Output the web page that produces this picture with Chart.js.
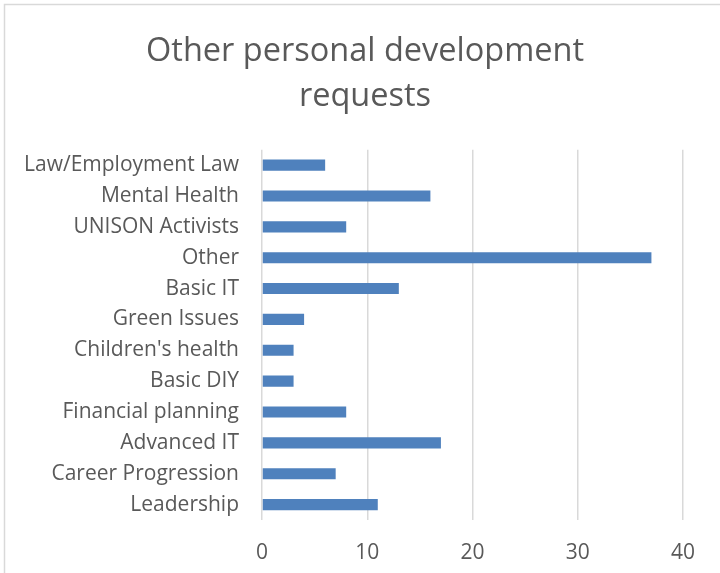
<!DOCTYPE html>
<html>
<head>
<meta charset="utf-8">
<script src="https://cdn.jsdelivr.net/npm/chart.js@4"></script>
<style>
    html, body { margin: 0; padding: 0; background: #ffffff; }
    #wrap { position: relative; width: 720px; height: 573px; }
</style>
</head>
<body>
<div id="wrap"><canvas id="requestsChart" width="720" height="573"></canvas></div>
<script>
// ======================================================
// Data
// ======================================================

const titleLines = ["Other personal development", "requests"];

const categories = [
    "Law/Employment Law",
    "Mental Health",
    "UNISON Activists",
    "Other",
    "Basic IT",
    "Green Issues",
    "Children's health",
    "Basic DIY",
    "Financial planning",
    "Advanced IT",
    "Career Progression",
    "Leadership"
];

const requestCounts = [6, 16, 8, 37, 13, 4, 3, 3, 8, 17, 7, 11];

const xTicks = [0, 10, 20, 30, 40];

// ======================================================
// Theme
// ======================================================

const textColor = "#595959";
const gridColor = "#d9d9d9";
const barColor = "#4f81bd";
const fontFamily = "'Open Sans', 'Noto Sans', sans-serif";

// light frame around the chart, cut off on the right and bottom
const framePlugin = {
    id: "frame",
    beforeDraw(chart) {
        const ctx = chart.ctx;
        ctx.save();
        ctx.strokeStyle = gridColor;
        ctx.lineWidth = 1.5;
        ctx.strokeRect(4.5, 4.5, 900, 900);
        ctx.restore();
    }
};

// ======================================================
// Chart
// ======================================================

new Chart(document.getElementById("requestsChart"), {
    type: "bar",
    data: {
        labels: categories,
        datasets: [{
            data: requestCounts,
            backgroundColor: barColor,
            borderWidth: 0,
            categoryPercentage: 1,
            barPercentage: 0.36
        }]
    },
    options: {
        indexAxis: "y",
        responsive: false,
        animation: false,
        layout: {
            padding: { top: 29, right: 0, bottom: 0, left: 10 }
        },
        plugins: {
            legend: { display: false },
            tooltip: { enabled: false },
            title: {
                display: true,
                text: titleLines,
                color: textColor,
                font: { family: fontFamily, size: 32.5, weight: "normal", lineHeight: 1.38 },
                padding: { top: 0, bottom: 31 }
            }
        },
        scales: {
            x: {
                min: 0,
                max: 40,
                afterBuildTicks(scale) {
                    scale.ticks = xTicks.map(v => ({ value: v }));
                },
                afterFit(scale) {
                    scale.height = 53;
                },
                grid: { color: gridColor, lineWidth: 1.5, drawTicks: false },
                border: { display: false },
                ticks: {
                    color: textColor,
                    padding: 20,
                    font: { family: fontFamily, size: 21 }
                }
            },
            y: {
                afterFit(scale) {
                    scale.width = 252;
                },
                grid: { display: false, drawTicks: false },
                border: { display: false },
                ticks: {
                    color: textColor,
                    padding: 23,
                    font: { family: fontFamily, size: 21 }
                }
            },
            // empty strip on the right, keeps room after the last tick
            yRight: {
                type: "category",
                axis: "y",
                position: "right",
                afterFit(scale) {
                    scale.width = 37;
                },
                grid: { display: false, drawTicks: false },
                border: { display: false },
                ticks: { display: false }
            }
        }
    },
    plugins: [framePlugin]
});
</script>
</body>
</html>
